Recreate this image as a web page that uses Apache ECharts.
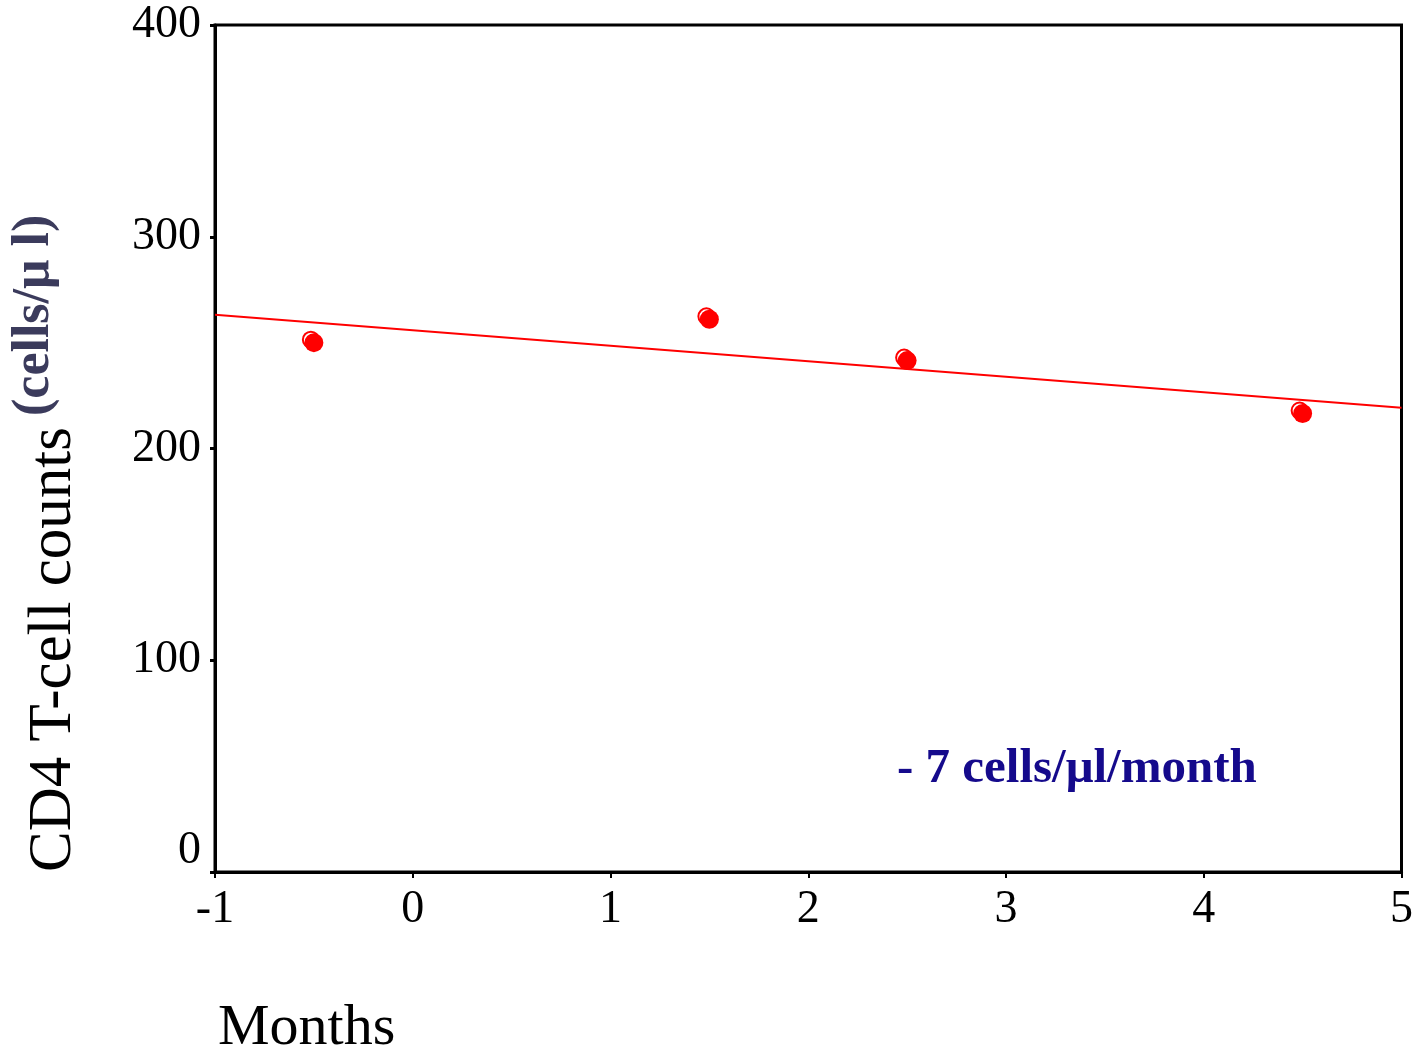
<!DOCTYPE html>
<html>
<head>
<meta charset="utf-8">
<script src="https://cdn.jsdelivr.net/npm/echarts@6/dist/echarts.min.js"></script>
<style>html,body{margin:0;padding:0;background:#fff;}#c{width:1416px;height:1054px;}</style>
</head>
<body>
<div id="c"></div>
<script>
// Data
var months = [-0.5, 1.5, 2.5, 4.5];
var cd4Counts = [250, 261, 241.5, 216.5];
var fitX = [-1, 5];
var fitY = [263.2, 219.2];
var xTicks = [-1, 0, 1, 2, 3, 4, 5];
var yTicks = [0, 100, 200, 300, 400];
var annotation = '- 7 cells/\u03bcl/month';
var yTitleMain = 'CD4 T-cell counts';
var yTitleUnit = '(cells/\u03bc l)';
var xTitle = 'Months';

var pts = months.map(function (m, i) { return [m, cd4Counts[i]]; });
var fit = fitX.map(function (x, i) { return [x, fitY[i]]; });
var serif = '"Liberation Serif", "DejaVu Serif", serif';

var chart = echarts.init(document.getElementById('c'), null, { renderer: 'canvas' });
chart.setOption({
  animation: false,
  backgroundColor: '#fff',
  grid: { left: 215, top: 25, right: 13, bottom: 182, show: true, borderColor: '#000', borderWidth: 3, backgroundColor: 'transparent' },
  xAxis: {
    type: 'value', min: xTicks[0], max: xTicks[xTicks.length - 1], interval: 1,
    splitLine: { show: false },
    axisLine: { show: true, onZero: false, lineStyle: { color: '#000', width: 3 } },
    axisTick: { show: true, length: 6, lineStyle: { color: '#000', width: 2 } },
    axisLabel: { color: '#000', fontFamily: serif, fontSize: 46, margin: 15 }
  },
  yAxis: {
    type: 'value', min: yTicks[0], max: yTicks[yTicks.length - 1], interval: 100,
    splitLine: { show: false },
    axisLine: { show: true, onZero: false, lineStyle: { color: '#000', width: 3 } },
    axisTick: { show: true, length: 5, lineStyle: { color: '#000', width: 3 } },
    axisLabel: {
      color: '#000', fontFamily: serif, fontSize: 46, margin: 14,
      formatter: function (v) { return v === 0 ? '{z|0}' : String(v); },
      rich: { z: { fontFamily: serif, fontSize: 46, color: '#000', padding: [0, 0, 42, 0] } }
    }
  },
  series: [
    {
      type: 'line', data: fit, symbol: 'none', z: 1,
      lineStyle: { color: '#ff0000', width: 2 }
    },
    {
      type: 'scatter', data: pts, symbol: 'circle', symbolSize: 16, symbolOffset: [-3, -3], z: 2,
      itemStyle: { color: '#fff', borderColor: '#ff0000', borderWidth: 2, opacity: 1 }
    },
    {
      type: 'scatter', data: pts, symbol: 'circle', symbolSize: 19, z: 3,
      itemStyle: { color: '#ff0000', borderWidth: 0, opacity: 1 }
    }
  ],
  graphic: [
    {
      type: 'text', x: 54, y: 872, rotation: Math.PI / 2,
      style: { text: yTitleMain, fontFamily: serif, fontSize: 61, fill: '#000', align: 'left', verticalAlign: 'middle' }
    },
    {
      type: 'text', x: 35, y: 416, rotation: Math.PI / 2,
      style: { text: yTitleUnit, fontFamily: serif, fontSize: 52, fontWeight: 'bold', fill: '#3b3b5c', align: 'left', verticalAlign: 'middle' }
    },
    {
      type: 'text', x: 218, y: 1029,
      style: { text: xTitle, fontFamily: serif, fontSize: 58, fill: '#000', align: 'left', verticalAlign: 'middle' }
    },
    {
      type: 'text', x: 897, y: 769,
      style: { text: annotation, fontFamily: serif, fontSize: 49, fontWeight: 'bold', fill: '#150a8c', align: 'left', verticalAlign: 'middle' }
    }
  ]
});
</script>
</body>
</html>
